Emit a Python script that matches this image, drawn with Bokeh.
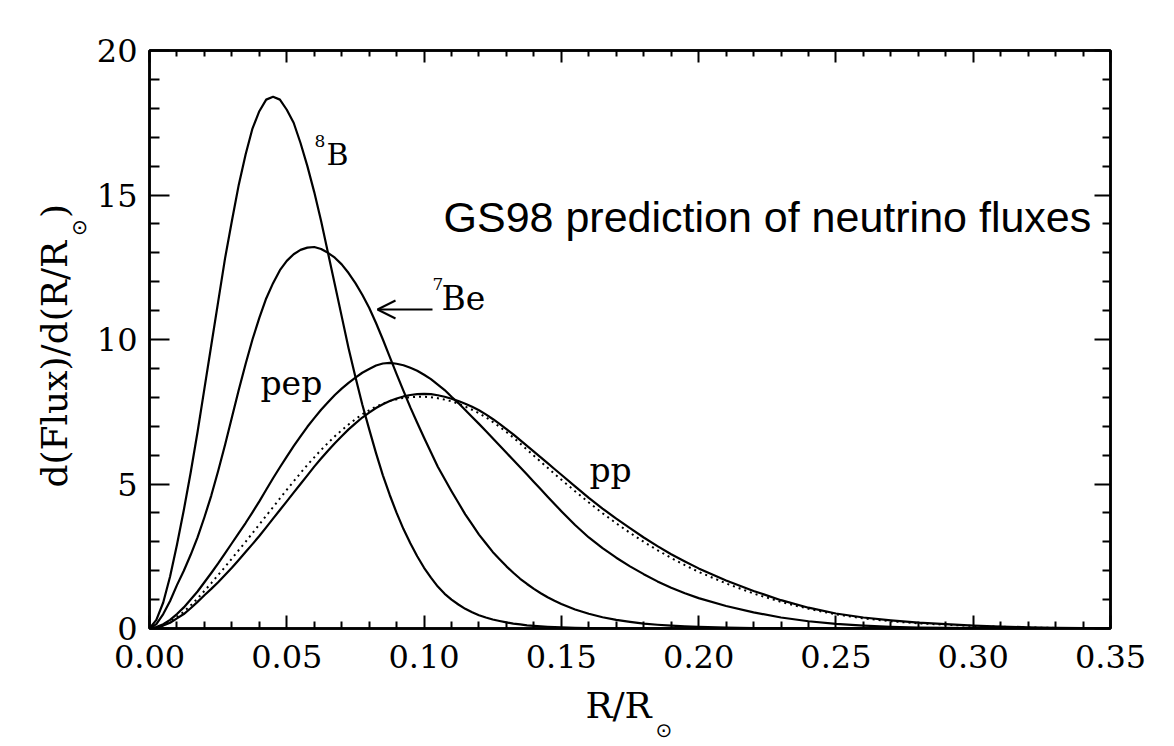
import math
from bokeh.plotting import figure
from bokeh.models import (Range1d, LinearAxis, Label, Arrow, OpenHead, Title,
                          FixedTicker, PrintfTickFormatter,
                          CustomJSTickFormatter)
from bokeh.embed import file_html
from bokeh.resources import INLINE

# ---------------- data ----------------
r = [0.0000, 0.0025, 0.0050, 0.0075, 0.0100, 0.0125, 0.0150, 0.0175, 0.0200, 0.0225,
     0.0250, 0.0275, 0.0300, 0.0325, 0.0350, 0.0375, 0.0400, 0.0425, 0.0450, 0.0475,
     0.0500, 0.0525, 0.0550, 0.0575, 0.0600, 0.0625, 0.0650, 0.0675, 0.0700, 0.0725,
     0.0750, 0.0775, 0.0800, 0.0825, 0.0850, 0.0875, 0.0900, 0.0925, 0.0950, 0.0975,
     0.1000, 0.1025, 0.1050, 0.1075, 0.1100, 0.1125, 0.1150, 0.1175, 0.1200, 0.1225,
     0.1250, 0.1275, 0.1300, 0.1325, 0.1350, 0.1375, 0.1400, 0.1425, 0.1450, 0.1475,
     0.1500,
     0.155, 0.160, 0.165, 0.170, 0.175, 0.180, 0.185, 0.190, 0.195, 0.200,
     0.21, 0.22, 0.23, 0.24, 0.25, 0.26, 0.27, 0.28, 0.29, 0.30,
     0.31, 0.32, 0.33, 0.34, 0.35]

flux_b8 = [0, 0.3, 0.9, 1.8, 2.9, 4.1, 5.4, 6.8, 8.3, 9.8,
           11.3, 12.8, 14.1, 15.35, 16.4, 17.3, 17.9, 18.3, 18.4, 18.3,
           17.95, 17.5, 16.8, 16.0, 15.1, 14.1, 13.0, 11.9, 10.8, 9.7,
           8.7, 7.75, 6.9, 6.07, 5.3, 4.62, 4.0, 3.44, 2.95, 2.5,
           2.1, 1.76, 1.45, 1.2, 1.0, 0.83, 0.68, 0.56, 0.46, 0.38,
           0.31, 0.26, 0.21, 0.17, 0.14, 0.11, 0.09, 0.075, 0.06, 0.05,
           0.04,
           0.02, 0.01, 0.005, 0, 0, 0, 0, 0, 0, 0,
           0, 0, 0, 0, 0, 0, 0, 0, 0, 0,
           0, 0, 0, 0, 0]

flux_be7 = [0, 0.15, 0.5, 0.95, 1.5, 2.0, 2.55, 3.15, 3.85, 4.6,
            5.45, 6.35, 7.3, 8.25, 9.15, 10.0, 10.75, 11.42, 11.95, 12.4,
            12.72, 12.95, 13.1, 13.18, 13.2, 13.13, 13.0, 12.83, 12.6, 12.3,
            11.95, 11.55, 11.1, 10.57, 10.0, 9.4, 8.8, 8.22, 7.65, 7.12,
            6.6, 6.1, 5.6, 5.17, 4.75, 4.35, 3.95, 3.6, 3.25, 2.95,
            2.65, 2.4, 2.15, 1.93, 1.72, 1.54, 1.37, 1.22, 1.08, 0.96,
            0.85,
            0.66, 0.51, 0.39, 0.30, 0.23, 0.17, 0.13, 0.10, 0.075, 0.055,
            0.03, 0.015, 0.008, 0, 0, 0, 0, 0, 0, 0,
            0, 0, 0, 0, 0]

flux_pep = [0, 0.05, 0.15, 0.3, 0.5, 0.73, 1.0, 1.28, 1.6, 1.92,
            2.25, 2.6, 2.95, 3.3, 3.65, 4.02, 4.4, 4.8, 5.2, 5.58,
            5.95, 6.31, 6.65, 6.98, 7.28, 7.57, 7.83, 8.08, 8.3, 8.5,
            8.68, 8.85, 8.98, 9.1, 9.17, 9.19, 9.16, 9.11, 9.02, 8.92,
            8.78, 8.63, 8.44, 8.25, 8.02, 7.8, 7.56, 7.32, 7.08, 6.83,
            6.58, 6.33, 6.08, 5.83, 5.58, 5.33, 5.07, 4.82, 4.56, 4.31,
            4.06,
            3.58, 3.15, 2.78, 2.45, 2.15, 1.88, 1.63, 1.41, 1.22, 1.05,
            0.78, 0.56, 0.38, 0.25, 0.16, 0.10, 0.06, 0.035, 0.02, 0.01,
            0.005, 0, 0, 0, 0]

flux_pp = [0, 0.03, 0.1, 0.2, 0.35, 0.5, 0.7, 0.92, 1.15, 1.37,
           1.6, 1.85, 2.1, 2.37, 2.65, 2.92, 3.2, 3.5, 3.8, 4.1,
           4.4, 4.7, 5.0, 5.3, 5.6, 5.88, 6.15, 6.41, 6.65, 6.89,
           7.1, 7.3, 7.47, 7.63, 7.76, 7.87, 7.96, 8.03, 8.08, 8.11,
           8.12, 8.11, 8.07, 8.02, 7.95, 7.87, 7.78, 7.67, 7.55, 7.41,
           7.25, 7.08, 6.9, 6.72, 6.52, 6.32, 6.12, 5.92, 5.72, 5.52,
           5.32,
           4.92, 4.52, 4.15, 3.8, 3.47, 3.15, 2.85, 2.57, 2.32, 2.08,
           1.66, 1.3, 0.98, 0.72, 0.52, 0.38, 0.28, 0.20, 0.15, 0.10,
           0.07, 0.04, 0.02, 0.01, 0.0]

flux_hep = [0, 0.03, 0.12, 0.24, 0.4, 0.58, 0.8, 1.04, 1.3, 1.57,
            1.85, 2.13, 2.42, 2.71, 3.0, 3.3, 3.6, 3.9, 4.2, 4.5,
            4.8, 5.09, 5.38, 5.66, 5.92, 6.18, 6.42, 6.65, 6.86, 7.06,
            7.24, 7.41, 7.55, 7.68, 7.78, 7.87, 7.93, 7.98, 8.0, 8.02,
            8.02, 8.0, 7.97, 7.92, 7.86, 7.78, 7.68, 7.57, 7.45, 7.31,
            7.15, 6.98, 6.8, 6.61, 6.4, 6.19, 5.98, 5.77, 5.56, 5.35,
            5.15,
            4.75, 4.36, 3.99, 3.64, 3.31, 3.0, 2.71, 2.44, 2.19, 1.96,
            1.56, 1.21, 0.92, 0.68, 0.49, 0.35, 0.25, 0.18, 0.13, 0.09,
            0.06, 0.035, 0.02, 0.01, 0.0]

x_ticks = [0.0, 0.05, 0.10, 0.15, 0.20, 0.25, 0.30, 0.35]
x_minor_ticks = [0.01, 0.02, 0.03, 0.04, 0.06, 0.07, 0.08, 0.09,
                 0.11, 0.12, 0.13, 0.14, 0.16, 0.17, 0.18, 0.19,
                 0.21, 0.22, 0.23, 0.24, 0.26, 0.27, 0.28, 0.29,
                 0.31, 0.32, 0.33, 0.34]
y_ticks = [0, 5, 10, 15, 20]
y_minor_ticks = [1, 2, 3, 4, 6, 7, 8, 9, 11, 12, 13, 14, 16, 17, 18, 19]

x_min, x_max = 0.0, 0.35
y_min, y_max = 0.0, 20.0

# ---------------- layout helpers (page pixels -> data) ----------------
FL, FR, FT, FB = 149, 1110, 50, 628   # frame edges on the page
W, H = 1166, 744


def dx(px):
    return x_min + (px - FL) / (FR - FL) * (x_max - x_min)


def dy(py):
    return y_min + (FB - py) / (FB - FT) * (y_max - y_min)


SERIF = "DejaVu Serif"

p = figure(width=W, height=H,
           min_border_left=FL, min_border_top=FT,
           min_border_right=W - FR, min_border_bottom=H - FB,
           x_range=Range1d(x_min, x_max), y_range=Range1d(y_min, y_max),
           output_backend="svg", toolbar_location=None, tools="",
           background_fill_color="white", border_fill_color="white")
p.grid.visible = False
p.outline_line_color = "black"
p.outline_line_width = 2.5

p.add_layout(LinearAxis(), "above")
p.add_layout(LinearAxis(), "right")

blank = CustomJSTickFormatter(code="return ''")

for ax in p.xaxis:
    ax.ticker = FixedTicker(ticks=x_ticks, minor_ticks=x_minor_ticks)
    ax.major_tick_in = 13
    ax.major_tick_out = 0
    ax.minor_tick_in = 7
    ax.minor_tick_out = 0
for ax in p.yaxis:
    ax.ticker = FixedTicker(ticks=y_ticks, minor_ticks=y_minor_ticks)
    ax.major_tick_in = 20
    ax.major_tick_out = 0
    ax.minor_tick_in = 10
    ax.minor_tick_out = 0
for ax in p.xaxis + p.yaxis:
    ax.axis_line_width = 2.5
    ax.axis_line_color = "black"
    ax.major_tick_line_width = 2
    ax.minor_tick_line_width = 2
    ax.major_tick_line_color = "black"
    ax.minor_tick_line_color = "black"
    ax.major_label_text_font = SERIF
    ax.major_label_text_font_size = "32px"
    ax.major_label_text_color = "black"

bottom = p.below[0]
bottom.formatter = PrintfTickFormatter(format="%.2f")
bottom.major_label_standoff = 16
# trailing no-break spaces leave room for the subscript on the right
bottom.axis_label = "R/R\u00a0\u00a0"
bottom.axis_label_text_font = SERIF
bottom.axis_label_text_font_size = "36px"
bottom.axis_label_text_font_style = "normal"
bottom.axis_label_text_color = "black"
bottom.axis_label_standoff = 14
p.left[0].major_label_standoff = 12
p.above[0].formatter = blank
p.right[0].formatter = blank
p.right[0].major_tick_in = 16
p.right[0].minor_tick_in = 8
p.above[0].major_tick_in = 12
p.above[0].minor_tick_in = 6


# ---------------- axis-title pieces with the solar subscript ----------------
def title(text, side, size, font=SERIF, align="left", valign="bottom",
          offset=0.0, standoff=0.0):
    p.add_layout(Title(text=text, text_font=font, text_font_size=size,
                       text_font_style="normal", text_color="black",
                       align=align, vertical_align=valign,
                       offset=offset, standoff=standoff), side)


# subscript of the x label (to the lower right of "R/R")
title("\u2299", "below", "20px", font="DejaVu Sans", align="left",
      valign="top", offset=506, standoff=-22)
# y label: subscript first (nearest the axis), then the main text
title("\u2299", "left", "20px", font="DejaVu Sans", align="left",
      valign="middle", offset=392.6, standoff=3.2)
title("d(Flux)/d(R/R\u00a0\u00a0)", "left", "36px", align="left",
      valign="top", offset=141, standoff=-25)

# ---------------- curves ----------------
for ys in (flux_b8, flux_be7, flux_pep, flux_pp):
    p.line(r, ys, line_color="black", line_width=2.2, line_join="round")
p.line(r, flux_hep, line_color="black", line_width=2, line_dash="2 4")


# ---------------- annotations inside the frame ----------------
def lab(px, py, text, size, font=SERIF, align="left", base="alphabetic"):
    p.add_layout(Label(x=dx(px), y=dy(py), text=text, text_font=font,
                       text_font_size=size, text_align=align,
                       text_baseline=base, text_color="black"))


lab(314, 140, "8", "17px")
lab(326, 154, "B", "30px")
lab(432, 283, "7", "17px")
lab(441, 298, "Be", "33px")
p.add_layout(Arrow(end=OpenHead(size=18, line_width=2, line_color="black"),
                   x_start=dx(432), y_start=dy(309),
                   x_end=dx(377), y_end=dy(309),
                   line_width=2, line_color="black"))
lab(260, 383, "pep", "33px")
lab(589, 470, "pp", "33px")
lab(443, 216, "GS98 prediction of neutrino fluxes", "43px",
    font="Liberation Sans")

open("out.html", "w").write(file_html(p, INLINE))
